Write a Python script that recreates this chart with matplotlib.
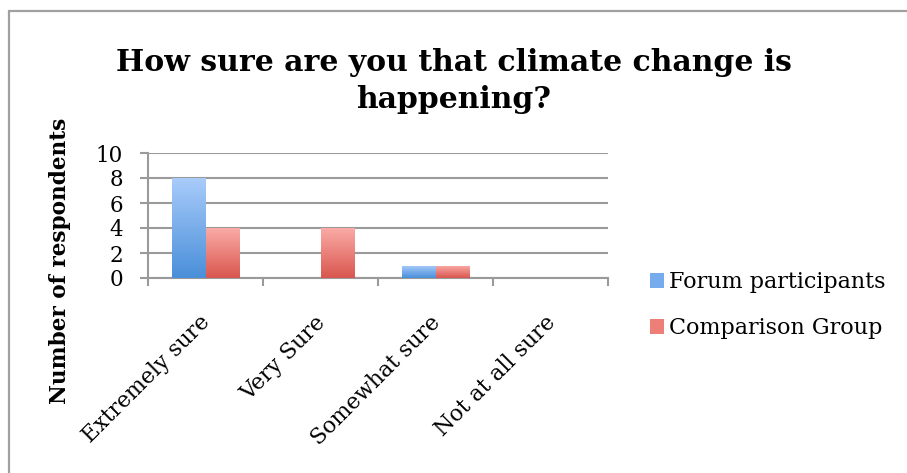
import matplotlib
matplotlib.use("Agg")
import matplotlib.pyplot as plt
import numpy as np
from matplotlib.colors import LinearSegmentedColormap
from matplotlib.patches import Rectangle, Patch

categories = ["Extremely sure", "Very Sure", "Somewhat sure", "Not at all sure"]
forum = [8, 0, 1, 0]
comparison = [4, 4, 1, 0]
series_names = ["Forum participants", "Comparison Group"]
y_ticks = [0, 2, 4, 6, 8, 10]

plt.rcParams["font.family"] = "DejaVu Serif"

fig = plt.figure(figsize=(9.07, 4.73), dpi=100)
ax = fig.add_axes([148 / 907, 1 - 278 / 473, 460 / 907, 125 / 473])

# outer frame
fig.patches.append(Rectangle((9 / 907, -0.1), 1.2, 1 - 11 / 473 + 0.1,
                             transform=fig.transFigure, fill=False,
                             edgecolor="#a0a0a0", linewidth=1.6))

blue_cmap = LinearSegmentedColormap.from_list("b", ["#4a8fd9", "#a9ccfb"])
red_cmap = LinearSegmentedColormap.from_list("r", ["#d9574f", "#fbaca7"])
grad = np.linspace(0, 1, 100).reshape(-1, 1)

x = np.arange(len(categories))
w = 0.287
bars1 = ax.bar(x - w / 2, forum, w, color="none", edgecolor="none")
bars2 = ax.bar(x + w / 2, comparison, w, color="none", edgecolor="none")

for bars, cmap in [(bars1, blue_cmap), (bars2, red_cmap)]:
    for b in bars:
        h = b.get_height()
        if h <= 0:
            continue
        x0 = b.get_x()
        im = ax.imshow(grad, extent=[x0, x0 + b.get_width(), 0, h],
                       origin="lower", cmap=cmap, aspect="auto", zorder=3)
        im.set_clip_path(b)

ax.set_xlim(-0.5, len(categories) - 0.5)
ax.set_ylim(0, 10)
ax.set_yticks(y_ticks)
ax.tick_params(axis="y", labelsize=15.5, length=6, width=1.5, color="#9a9a9a", pad=12)
ax.yaxis.grid(True, color="#9a9a9a", linewidth=1.5)
ax.set_axisbelow(True)

ax.set_xticks(np.arange(len(categories) + 1) - 0.5)
ax.set_xticklabels([])
ax.tick_params(axis="x", length=6, width=1.5, color="#9a9a9a")
for i, c in enumerate(categories):
    ax.annotate(c, xy=(i + 0.08, 0), xycoords=("data", "axes fraction"),
                xytext=(0, -24), textcoords="offset points",
                rotation=45, ha="right", va="top", fontsize=15.8)

for s in ["top", "right"]:
    ax.spines[s].set_visible(False)
for s in ["left", "bottom"]:
    ax.spines[s].set_color("#9a9a9a")
    ax.spines[s].set_linewidth(1.5)

fig.text(0.5, 1 - 81 / 473, "How sure are you that climate change is\nhappening?",
         ha="center", va="center", fontsize=21.5, fontweight="bold", linespacing=1.35)
fig.text(60 / 907, 1 - 261 / 473, "Number of respondents", rotation=90,
         ha="center", va="center", fontsize=15.6, fontweight="bold")

handles = [Patch(facecolor="#76acee"), Patch(facecolor="#ee7f78")]
fig.legend(handles, series_names, loc="upper left",
           bbox_to_anchor=(630 / 907, 1 - 251 / 473), frameon=False,
           fontsize=16, handlelength=0.65, handleheight=0.65, handletextpad=0.2,
           labelspacing=1.1)

fig.savefig("out.png", dpi=100)
